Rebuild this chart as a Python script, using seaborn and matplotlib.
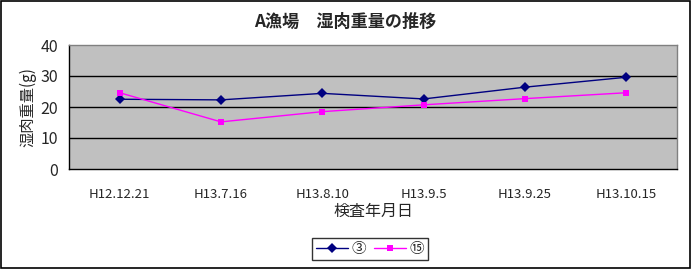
import matplotlib
matplotlib.use("Agg")
import matplotlib.pyplot as plt
import seaborn as sns
import pandas as pd
from matplotlib.patches import Rectangle
from matplotlib.lines import Line2D

dates = ["H12.12.21", "H13.7.16", "H13.8.10", "H13.9.5", "H13.9.25", "H13.10.15"]
s3 = [22.5, 22.3, 24.4, 22.6, 26.4, 29.6]
s15 = [24.6, 15.2, 18.5, 20.7, 22.7, 24.6]
series_names = ["③", "⑮"]
title = "A漁場　湿肉重量の推移"
xlabel = "検査年月日"
ylabel = "湿肉重量(g)"

sns.set_theme(style="white")
plt.rcParams['font.family'] = ['Noto Sans CJK JP', 'DejaVu Sans']

df = pd.DataFrame({
    "pos": list(range(len(dates))) * 2,
    "value": s3 + s15,
    "series": [series_names[0]] * len(dates) + [series_names[1]] * len(dates),
})

fig = plt.figure(figsize=(6.91, 2.69), dpi=100)
ax = fig.add_axes([69/691, 1 - 169/269, (677-69)/691, (169-45)/269])
ax.set_facecolor("#C0C0C0")

sns.lineplot(data=df, x="pos", y="value", hue="series", style="series",
             palette={series_names[0]: "#000080", series_names[1]: "#FF00FF"},
             markers={series_names[0]: "D", series_names[1]: "s"},
             dashes=False, markersize=5, linewidth=1.0, markeredgewidth=0,
             ax=ax, legend=False, zorder=3)

ax.set_xlim(-0.5, len(dates) - 0.5)
ax.set_ylim(0, 40)
ax.set_yticks([0, 10, 20, 30, 40])
ax.set_xticks(range(len(dates)))
ax.set_xticklabels(dates)
ax.set_xticks([i + 0.5 for i in range(len(dates) - 1)], minor=True)
ax.tick_params(axis="x", which="major", length=0, pad=14, labelsize=9.5)
ax.tick_params(axis="x", which="minor", length=4, direction="in", width=1, color="black")
ax.tick_params(axis="y", length=0, pad=8, labelsize=11.5)
for y in [10, 20, 30]:
    ax.axhline(y, color="black", linewidth=1, zorder=1)
for side in ["top", "right"]:
    ax.spines[side].set_color("#808080")
    ax.spines[side].set_linewidth(1)
for side in ["left", "bottom"]:
    ax.spines[side].set_color("black")
    ax.spines[side].set_linewidth(1)
ax.set_xlabel(xlabel, fontsize=11.5, labelpad=1)
ax.set_ylabel(ylabel, fontsize=11, labelpad=3)
fig.text(0.5, 1 - 22/269, title, ha="center", va="center", fontsize=12.3, fontweight="bold")

handles = [
    Line2D([], [], color="#000080", marker="D", markersize=5, markeredgewidth=0, linewidth=1),
    Line2D([], [], color="#FF00FF", marker="s", markersize=5, markeredgewidth=0, linewidth=1),
]
leg = fig.legend(handles, series_names, loc="center", bbox_to_anchor=(370/691, 1 - 249/269),
                 ncol=2, frameon=True, fancybox=False, edgecolor="black", fontsize=10.5,
                 handlelength=2.2, columnspacing=0.6, handletextpad=0.2, borderpad=0.25,
                 borderaxespad=0)
leg.get_frame().set_linewidth(1)

fig.patches.append(Rectangle((0.001, 0.002), 0.997, 0.995, transform=fig.transFigure,
                             fill=False, edgecolor="black", linewidth=1.2))

fig.savefig("out.png", dpi=100)
